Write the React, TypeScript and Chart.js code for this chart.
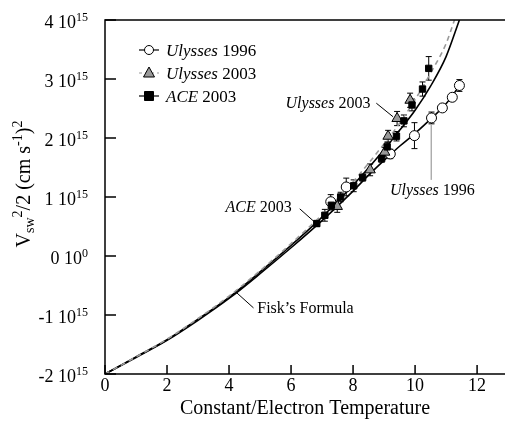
import React, { useEffect, useRef } from "react";
import { Chart, registerables } from "chart.js";
Chart.register(...registerables);

// y values are in units of 1e15 (cm s^-1)^2
const u96X = [7.28, 7.78, 9.2, 9.98, 10.53, 10.88, 11.2, 11.43];
const u96Y = [0.92, 1.17, 1.73, 2.04, 2.34, 2.51, 2.69, 2.89];
const u96Err = [0.12, 0.15, 0.08, 0.22, 0.1, 0.06, 0.06, 0.1];

const u03X = [7.49, 8.55, 9.02, 9.13, 9.42, 9.84];
const u03Y = [0.84, 1.46, 1.76, 2.03, 2.33, 2.64];
const u03Err = [0.1, 0.1, 0.08, 0.1, 0.12, 0.12];

const aceX = [6.83, 7.09, 7.3, 7.6, 8.02, 8.31, 8.92, 9.1, 9.4, 9.64, 9.9, 10.24, 10.44];
const aceY = [0.55, 0.69, 0.86, 1.0, 1.19, 1.33, 1.65, 1.85, 2.03, 2.29, 2.56, 2.83, 3.18];
const aceErr = [0.05, 0.1, 0.08, 0.08, 0.1, 0.06, 0.06, 0.08, 0.08, 0.1, 0.1, 0.12, 0.2];

// Fisk's formula curves
const fitAceX = [0, 1, 2, 3, 4, 5, 6, 7, 8, 9, 9.5, 10, 10.5, 11, 11.43];
const fitAceY = [-2, -1.71, -1.42, -1.07, -0.7, -0.27, 0.18, 0.66, 1.2, 1.8, 2.13, 2.47, 2.88, 3.38, 4.0];
const fitU03X = [0, 1, 2, 3, 4, 5, 6, 7, 8, 9, 9.5, 10, 10.5, 11, 11.27];
const fitU03Y = [-2, -1.71, -1.41, -1.06, -0.68, -0.25, 0.21, 0.7, 1.26, 1.9, 2.25, 2.65, 3.1, 3.6, 4.0];
const fitU96X = [0, 1, 2, 3, 4, 5, 6, 7, 8, 8.5, 9, 9.5, 10, 10.5, 11, 11.45];
const fitU96Y = [-2, -1.72, -1.43, -1.09, -0.72, -0.3, 0.14, 0.6, 1.1, 1.37, 1.62, 1.86, 2.08, 2.32, 2.58, 2.9];

const xTicks = [0, 2, 4, 6, 8, 10, 12];
const yTicks = [-2, -1, 0, 1, 2, 3, 4];
const yTickMant = ["-2", "-1", "0", "1", "2", "3", "4"];
const yTickExp = ["15", "15", "0", "15", "15", "15", "15"];

const FONT = "'Liberation Serif', 'Times New Roman', serif";

const pts = (xs: number[], ys: number[]) => xs.map((x, i) => ({ x, y: ys[i] }));

type Part = { t: string; size: number; dy?: number; italic?: boolean };

function richWidth(ctx: CanvasRenderingContext2D, parts: Part[]) {
  let w = 0;
  for (const p of parts) {
    ctx.font = `${p.italic ? "italic " : ""}${p.size}px ${FONT}`;
    w += ctx.measureText(p.t).width;
  }
  return w;
}
function drawRich(ctx: CanvasRenderingContext2D, parts: Part[], x: number, y: number, align: "left" | "right" | "center") {
  const w = richWidth(ctx, parts);
  let cx = align === "left" ? x : align === "right" ? x - w : x - w / 2;
  ctx.textAlign = "left";
  ctx.textBaseline = "alphabetic";
  for (const p of parts) {
    ctx.font = `${p.italic ? "italic " : ""}${p.size}px ${FONT}`;
    ctx.fillText(p.t, cx, y + (p.dy || 0));
    cx += ctx.measureText(p.t).width;
  }
}

const errPlugin = {
  id: "errbars",
  beforeDatasetsDraw(chart: any) {
    const ctx = chart.ctx;
    const xs = chart.scales.x, ys = chart.scales.y;
    ctx.save();
    ctx.strokeStyle = "#000";
    ctx.lineWidth = 1;
    chart.data.datasets.forEach((ds: any) => {
      if (!ds.errors) return;
      ds.data.forEach((p: any, i: number) => {
        const e = ds.errors[i];
        const px = xs.getPixelForValue(p.x);
        const y1 = ys.getPixelForValue(p.y + e);
        const y2 = ys.getPixelForValue(p.y - e);
        ctx.beginPath();
        ctx.moveTo(px, y1); ctx.lineTo(px, y2);
        ctx.moveTo(px - 3, y1); ctx.lineTo(px + 3, y1);
        ctx.moveTo(px - 3, y2); ctx.lineTo(px + 3, y2);
        ctx.stroke();
      });
    });
    ctx.restore();
  },
};

const decoPlugin = {
  id: "deco",
  afterDraw(chart: any) {
    const ctx: CanvasRenderingContext2D = chart.ctx;
    const xs = chart.scales.x, ys = chart.scales.y;
    const { left, right, top, bottom } = chart.chartArea;
    ctx.save();
    ctx.fillStyle = "#000";
    ctx.strokeStyle = "#000";
    ctx.lineWidth = 1.5;
    // frame: left, bottom, top
    ctx.beginPath();
    ctx.moveTo(right, top); ctx.lineTo(left, top); ctx.lineTo(left, bottom); ctx.lineTo(right, bottom);
    ctx.stroke();
    // ticks
    ctx.beginPath();
    yTicks.forEach((v) => {
      const y = ys.getPixelForValue(v);
      ctx.moveTo(left, y); ctx.lineTo(left + 11, y);
    });
    xTicks.forEach((v) => {
      const x = xs.getPixelForValue(v);
      ctx.moveTo(x, bottom); ctx.lineTo(x, bottom - 9);
    });
    ctx.stroke();
    // y tick labels
    yTicks.forEach((v, i) => {
      const y = ys.getPixelForValue(v);
      drawRich(ctx, [
        { t: yTickMant[i] + " 10", size: 18 },
        { t: yTickExp[i], size: 12, dy: -7 },
      ], left - 17, y + 8, "right");
    });
    // x tick labels
    ctx.font = `18px ${FONT}`;
    ctx.textAlign = "center";
    ctx.textBaseline = "top";
    xTicks.forEach((v) => {
      ctx.fillText(String(v), xs.getPixelForValue(v), bottom + 3);
    });
    // x title
    ctx.font = `20px ${FONT}`;
    ctx.textBaseline = "alphabetic";
    ctx.fillText("Constant/Electron Temperature", (left + right) / 2, bottom + 40);
    // y title
    ctx.save();
    ctx.translate(30, 184);
    ctx.rotate(-Math.PI / 2);
    drawRich(ctx, [
      { t: "V", size: 20 },
      { t: "sw", size: 14, dy: 4 },
      { t: "2", size: 14, dy: -8 },
      { t: "/2 (cm s", size: 20 },
      { t: "-1", size: 14, dy: -8 },
      { t: ")", size: 20 },
      { t: "2", size: 14, dy: -8 },
    ], 0, 0, "center");
    ctx.restore();

    // legend
    const legRows = [
      { y: 50, name: "Ulysses", yr: " 1996", kind: "circle" },
      { y: 73, name: "Ulysses", yr: " 2003", kind: "tri" },
      { y: 96, name: "ACE", yr: " 2003", kind: "sq" },
    ];
    legRows.forEach((r) => {
      const mx = 149;
      ctx.save();
      ctx.lineWidth = 1.2;
      if (r.kind === "tri") {
        ctx.strokeStyle = "#999";
        ctx.setLineDash([3, 3]);
      } else ctx.strokeStyle = "#000";
      ctx.beginPath();
      ctx.moveTo(139, r.y); ctx.lineTo(159, r.y);
      ctx.stroke();
      ctx.setLineDash([]);
      ctx.strokeStyle = "#000";
      ctx.lineWidth = 1;
      ctx.beginPath();
      if (r.kind === "circle") {
        ctx.arc(mx, r.y, 4.5, 0, Math.PI * 2);
        ctx.fillStyle = "#fff";
      } else if (r.kind === "tri") {
        ctx.moveTo(mx, r.y - 6); ctx.lineTo(mx + 5.5, r.y + 4); ctx.lineTo(mx - 5.5, r.y + 4); ctx.closePath();
        ctx.fillStyle = "#999";
      } else {
        ctx.rect(mx - 4.5, r.y - 4.5, 9, 9);
        ctx.fillStyle = "#000";
      }
      ctx.fill(); ctx.stroke();
      ctx.restore();
      drawRich(ctx, [
        { t: r.name, size: 17, italic: true },
        { t: r.yr, size: 17 },
      ], 166, r.y + 6, "left");
    });

    // annotations (anchored in data units)
    const P = (x: number, y: number) => [xs.getPixelForValue(x), ys.getPixelForValue(y)];
    const line = (a: number[], b: number[], color: string) => {
      ctx.save();
      ctx.strokeStyle = color; ctx.lineWidth = 1;
      ctx.beginPath(); ctx.moveTo(a[0], a[1]); ctx.lineTo(b[0], b[1]); ctx.stroke();
      ctx.restore();
    };
    let p = P(6.02, 0.83);
    drawRich(ctx, [{ t: "ACE", size: 16, italic: true }, { t: " 2003", size: 16 }], p[0], p[1] + 5, "right");
    line(P(6.28, 0.8), P(6.75, 0.58), "#000");
    p = P(4.91, -0.88);
    drawRich(ctx, [{ t: "Fisk\u2019s Formula", size: 16 }], p[0], p[1] + 5, "left");
    line(P(4.79, -0.88), P(4.22, -0.61), "#000");
    p = P(8.56, 2.59);
    drawRich(ctx, [{ t: "Ulysses", size: 16, italic: true }, { t: " 2003", size: 16 }], p[0], p[1] + 5, "right");
    line(P(8.75, 2.59), P(9.29, 2.36), "#000");
    p = P(9.19, 1.12);
    drawRich(ctx, [{ t: "Ulysses", size: 16, italic: true }, { t: " 1996", size: 16 }], p[0], p[1] + 5, "left");
    line(P(10.52, 1.29), P(10.52, 2.22), "#888");
    ctx.restore();
  },
};

export default function App() {
  const ref = useRef<HTMLCanvasElement>(null);
  useEffect(() => {
    document.body.style.margin = "0";
    const canvas = ref.current!;
    const curve = (xs: number[], ys: number[], color: string, dash: number[], order: number) => ({
      type: "line" as const,
      data: pts(xs, ys),
      borderColor: color,
      borderWidth: 1.6,
      borderDash: dash,
      pointRadius: 0,
      showLine: true,
      fill: false,
      cubicInterpolationMode: "monotone" as const,
      order,
    });
    const chart = new Chart(canvas, {
      type: "scatter",
      data: {
        datasets: [
          curve(fitU96X, fitU96Y, "#000", [], 6),
          curve(fitAceX, fitAceY, "#000", [], 5),
          curve(fitU03X, fitU03Y, "#9a9a9a", [5, 4], 4),
          {
            data: pts(u96X, u96Y), errors: u96Err,
            pointStyle: "circle", pointRadius: 5, backgroundColor: "#fff",
            borderColor: "#000", borderWidth: 1, order: 3,
          } as any,
          {
            data: pts(u03X, u03Y), errors: u03Err,
            pointStyle: "triangle", pointRadius: 6, backgroundColor: "#999",
            borderColor: "#000", borderWidth: 1, order: 2,
          } as any,
          {
            data: pts(aceX, aceY), errors: aceErr,
            pointStyle: "rect", pointRadius: 4.5, backgroundColor: "#000",
            borderColor: "#000", borderWidth: 1, order: 1,
          } as any,
        ],
      },
      options: {
        animation: false,
        responsive: false,
        devicePixelRatio: 1,
        layout: { padding: { left: 105, right: 0, top: 20, bottom: 48 } },
        plugins: { legend: { display: false }, tooltip: { enabled: false } },
        scales: {
          x: { type: "linear", min: 0, max: 12.9, display: false },
          y: { type: "linear", min: -2, max: 4, display: false },
        },
      },
      plugins: [errPlugin, decoPlugin],
    });
    return () => chart.destroy();
  }, []);
  return <canvas ref={ref} width={512} height={422} style={{ display: "block", width: 512, height: 422 }} />;
}
